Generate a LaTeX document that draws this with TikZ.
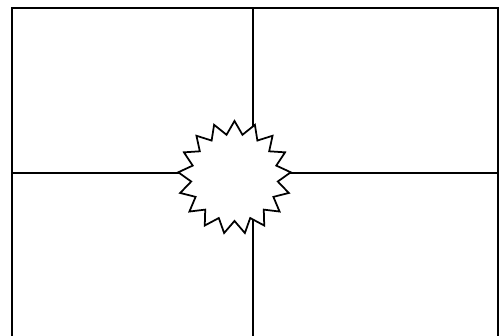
\documentclass[tikz,border=0pt]{standalone}
\usetikzlibrary{shapes.geometric}

\begin{document}
\begin{tikzpicture}[
  x=0.02cm, y=-0.02cm,
  ln/.style={draw=black,line width=0.04cm},
  burst/.style={star,star points=17,star point ratio=1.3,draw=black,
                fill=white,line width=0.035cm,inner sep=0pt,
                minimum size=2.26cm},
  ]
  \useasboundingbox (0,0) rectangle (504,335);
  % frame and cross
  \coordinate (tl) at (12,8);
  \coordinate (tr) at (498,8);
  \coordinate (bl) at (12,345);
  \coordinate (br) at (498,345);
  \coordinate (top) at (252.5,8);
  \coordinate (bot) at (252.5,345);
  \coordinate (lft) at (12,172.5);
  \coordinate (rgt) at (498,172.5);
  \draw[ln] (bl) -- (tl) -- (tr) -- (br);
  \draw[ln] (top) -- (bot);
  \draw[ln] (lft) -- (rgt);
  % burst in the middle
  \node[burst] (sun) at (234.5,177.5) {};
\end{tikzpicture}
\end{document}
